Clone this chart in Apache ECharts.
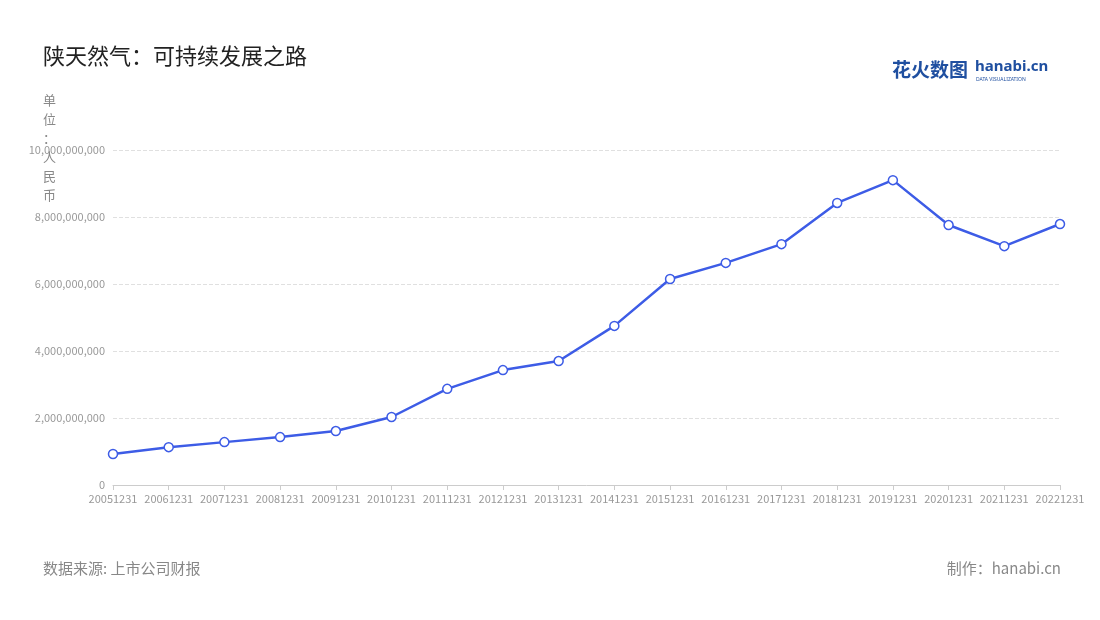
<!DOCTYPE html>
<html><head><meta charset="utf-8">
<script src="https://cdn.jsdelivr.net/npm/echarts@6/dist/echarts.min.js"></script>
<style>html,body{margin:0;padding:0;background:#fff}#c{width:1100px;height:620px}</style>
</head><body><div id="c"></div>
<script>
const categories = ['20051231','20061231','20071231','20081231','20091231','20101231','20111231','20121231','20131231','20141231','20151231','20161231','20171231','20181231','20191231','20201231','20211231','20221231'];
const values = [925000000,1130000000,1280000000,1430000000,1610000000,2030000000,2870000000,3430000000,3700000000,4750000000,6150000000,6630000000,7190000000,8420000000,9100000000,7760000000,7130000000,7790000000];
const chart = echarts.init(document.getElementById('c'));
const F = '"Noto Sans CJK SC","Noto Sans",sans-serif';
chart.setOption({
  animation:false,
  title:[
    {text:'陕天然气：可持续发展之路',left:38,top:40,textStyle:{fontFamily:F,fontSize:22,fontWeight:'normal',color:'#222'}},
    {text:'数据来源: 上市公司财报',left:38,top:556,textStyle:{fontFamily:F,fontSize:15,fontWeight:'normal',color:'#888'}},
    {text:'制作：hanabi.cn',right:34,top:556,textStyle:{fontFamily:F,fontSize:15,fontWeight:'normal',color:'#888'}},
    {text:'单\n位\n：\n人\n民\n币',left:38,top:86,textStyle:{fontFamily:F,fontSize:13,fontWeight:'normal',color:'#888',lineHeight:19}}
  ],
  graphic:[
    {type:'text',left:892,top:60,style:{text:'花火数图',font:'bold 19px "Noto Sans CJK SC"',fill:'#1f4fa0'}},
    {type:'text',left:975,top:59,style:{text:'hanabi.cn',font:'bold 15px "Noto Sans"',fill:'#1f4fa0'}},
    {type:'text',left:976,top:77,style:{text:'DATA VISUALIZATION',font:'5px "Noto Sans"',fill:'#1f4fa0'}}
  ],
  grid:{left:113,right:40,top:150,bottom:135},
  xAxis:{type:'category',data:categories,boundaryGap:false,
    axisLine:{lineStyle:{color:'#ccc'}},axisTick:{lineStyle:{color:'#ccc'}},
    axisLabel:{color:'#999',fontSize:11,fontFamily:F,interval:0}},
  yAxis:{type:'value',min:0,max:10000000000,interval:2000000000,
    axisLabel:{color:'#999',fontSize:11,fontFamily:F,formatter:v=>v.toLocaleString('en-US')},
    splitLine:{lineStyle:{type:'dashed',color:'#e0e0e0'}},axisLine:{show:false},axisTick:{show:false}},
  series:[{type:'line',data:values,symbol:'circle',symbolSize:9,
    lineStyle:{color:'#3d5ce6',width:2.5},
    itemStyle:{color:'#fff',borderColor:'#3d5ce6',borderWidth:1.5}}]
});
</script></body></html>
